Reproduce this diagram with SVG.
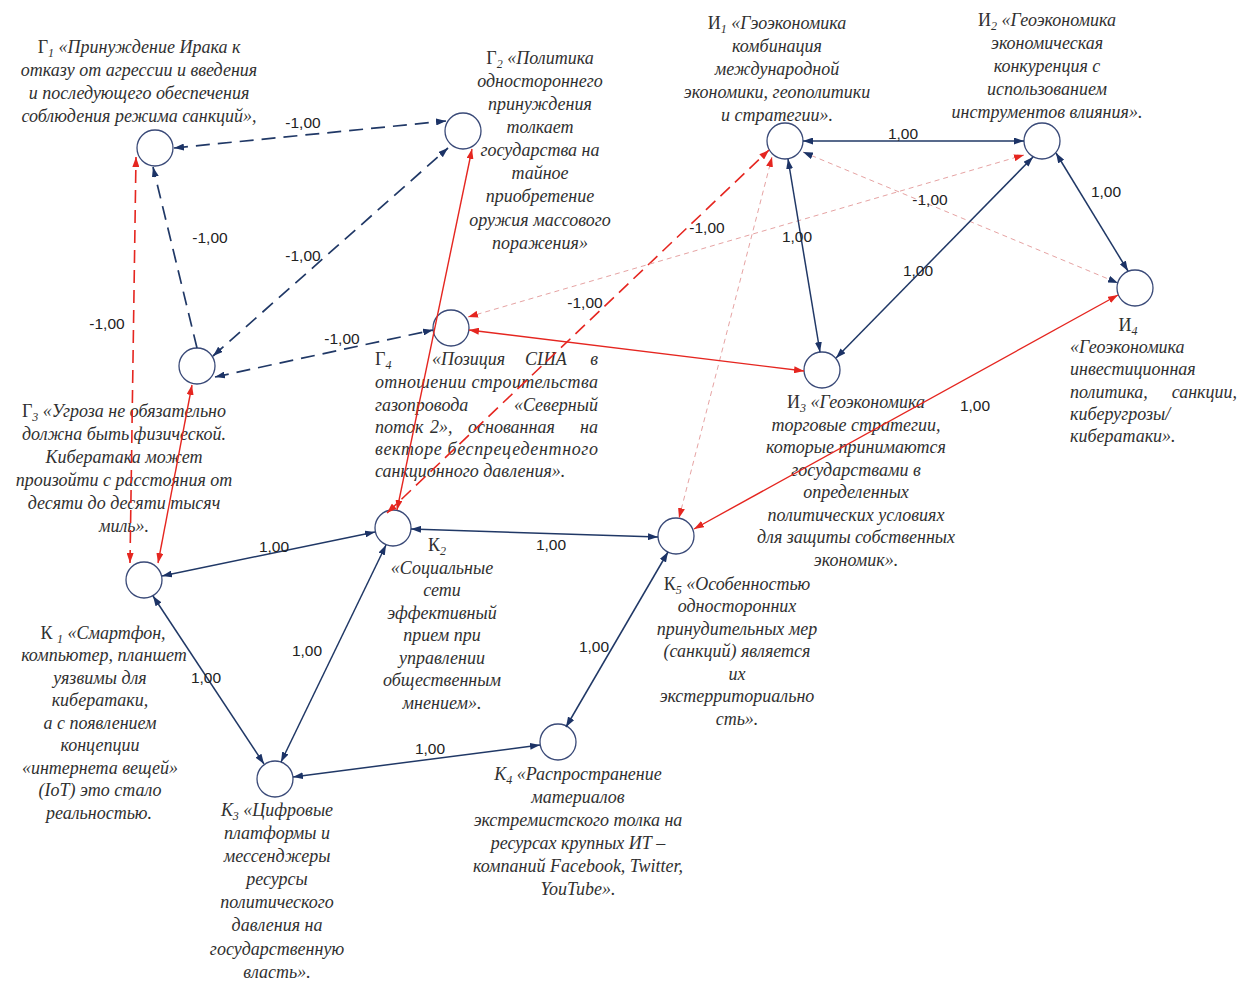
<svg xmlns="http://www.w3.org/2000/svg" width="1248" height="981" viewBox="0 0 1248 981">
<style>
.t{font-family:"Liberation Serif",serif;font-style:italic;font-size:18px;fill:#303030;text-anchor:middle}
.s{text-anchor:start}
.e{text-anchor:end}
.u{font-style:normal}
.n{fill:#fff;stroke:#3a4a78;stroke-width:1.3}
.lb{font-family:"Liberation Sans",sans-serif;font-size:15.5px;fill:#222;text-anchor:middle}
.nv{stroke:#203866;stroke-width:1.5;fill:none}
.nvd{stroke:#203866;stroke-width:1.7;fill:none;stroke-dasharray:14 8}
.rd{stroke:#e52620;stroke-width:1.4;fill:none}
.rdd{stroke:#e52620;stroke-width:1.6;fill:none;stroke-dasharray:13 7}
.pk{stroke:#e6a3a3;stroke-width:1;fill:none;stroke-dasharray:5 4}
</style>
<defs>
<marker id="an" viewBox="0 0 10 7" refX="10" refY="3.5" markerWidth="10" markerHeight="7" markerUnits="userSpaceOnUse" orient="auto-start-reverse"><path d="M0,0 L10,3.5 L0,7 z" fill="#1c3366"/></marker>
<marker id="ar" viewBox="0 0 10 7" refX="10" refY="3.5" markerWidth="10" markerHeight="7" markerUnits="userSpaceOnUse" orient="auto-start-reverse"><path d="M0,0 L10,3.5 L0,7 z" fill="#e52620"/></marker>
</defs>
<rect width="1248" height="981" fill="#fff"/>

<g id="G1">
<circle class="n" cx="155" cy="148" r="18"/>
<text class="t" x="139" y="53"><tspan class="u">Г</tspan><tspan font-size="12" dy="4">1</tspan><tspan dy="-4"> «Принуждение Ирака к</tspan></text>
<text class="t" x="139" y="76">отказу от агрессии и введения</text>
<text class="t" x="139" y="99">и последующего обеспечения</text>
<text class="t" x="139" y="122">соблюдения режима санкций»,</text>
</g>
<g id="G2">
<circle class="n" cx="463" cy="131" r="18"/>
<text class="t" x="540" y="64"><tspan class="u">Г</tspan><tspan font-size="12" dy="4">2</tspan><tspan dy="-4"> «Политика</tspan></text>
<text class="t" x="540" y="87">одностороннего</text>
<text class="t" x="540" y="110">принуждения</text>
<text class="t" x="540" y="133">толкает</text>
<text class="t" x="540" y="156">государства на</text>
<text class="t" x="540" y="179">тайное</text>
<text class="t" x="540" y="202">приобретение</text>
<text class="t" x="540" y="226">оружия массового</text>
<text class="t" x="540" y="249">поражения»</text>
</g>
<g id="G3">
<circle class="n" cx="197" cy="366" r="18"/>
<text class="t" x="124" y="417"><tspan class="u">Г</tspan><tspan font-size="12" dy="4">3</tspan><tspan dy="-4"> «Угроза не обязательно</tspan></text>
<text class="t" x="124" y="440">должна быть физической.</text>
<text class="t" x="124" y="463">Кибератака может</text>
<text class="t" x="124" y="486">произойти с расстояния от</text>
<text class="t" x="124" y="509">десяти до десяти тысяч</text>
<text class="t" x="124" y="532">миль».</text>
</g>
<g id="G4">
<circle class="n" cx="451" cy="328" r="18"/>
<text class="t s" x="375" y="365"><tspan class="u">Г</tspan><tspan font-size="12" dy="4">4</tspan></text>
<text class="t s" x="432" y="365">«Позиция</text>
<text class="t s" x="525" y="365">США</text>
<text class="t e" x="598" y="365">в</text>
<text class="t s" x="375" y="388" textLength="223" lengthAdjust="spacing">отношении строительства</text>
<text class="t s" x="375" y="411">газопровода</text>
<text class="t e" x="598" y="411">«Северный</text>
<text class="t s" x="375" y="433">поток</text>
<text class="t s" x="430" y="433">2»,</text>
<text class="t s" x="468" y="433">основанная</text>
<text class="t e" x="598" y="433">на</text>
<text class="t s" x="375" y="455" textLength="223" lengthAdjust="spacing">векторе беспрецедентного</text>
<text class="t s" x="375" y="477">санкционного давления».</text>
</g>
<g id="I1">
<circle class="n" cx="785" cy="141" r="18"/>
<text class="t" x="777" y="29"><tspan class="u">И</tspan><tspan font-size="12" dy="4">1</tspan><tspan dy="-4"> «Гэоэкономика</tspan></text>
<text class="t" x="777" y="52">комбинация</text>
<text class="t" x="777" y="75">международной</text>
<text class="t" x="777" y="98">экономики, геополитики</text>
<text class="t" x="777" y="121">и стратегии».</text>
</g>
<g id="I2">
<circle class="n" cx="1042" cy="141" r="18"/>
<text class="t" x="1047" y="26"><tspan class="u">И</tspan><tspan font-size="12" dy="4">2</tspan><tspan dy="-4"> «Геоэкономика</tspan></text>
<text class="t" x="1047" y="49">экономическая</text>
<text class="t" x="1047" y="72">конкуренция с</text>
<text class="t" x="1047" y="95">использованием</text>
<text class="t" x="1047" y="118">инструментов влияния».</text>
</g>
<g id="I3">
<circle class="n" cx="822" cy="370" r="18"/>
<text class="t" x="856" y="408"><tspan class="u">И</tspan><tspan font-size="12" dy="4">3</tspan><tspan dy="-4"> «Геоэкономика</tspan></text>
<text class="t" x="856" y="431">торговые стратегии,</text>
<text class="t" x="856" y="453">которые принимаются</text>
<text class="t" x="856" y="476">государствами в</text>
<text class="t" x="856" y="498">определенных</text>
<text class="t" x="856" y="521">политических условиях</text>
<text class="t" x="856" y="543">для защиты собственных</text>
<text class="t" x="856" y="566">экономик».</text>
</g>
<g id="I4">
<circle class="n" cx="1135" cy="288" r="18"/>
<text class="t" x="1128" y="331"><tspan class="u">И</tspan><tspan font-size="12" dy="4">4</tspan></text>
<text class="t s" x="1070" y="353">«Геоэкономика</text>
<text class="t s" x="1070" y="375">инвестиционная</text>
<text class="t s" x="1070" y="398">политика,</text>
<text class="t e" x="1237" y="398">санкции,</text>
<text class="t s" x="1070" y="420">киберугрозы/</text>
<text class="t s" x="1070" y="442">кибератаки».</text>
</g>
<g id="K1">
<circle class="n" cx="144" cy="580" r="18"/>
<text class="t" x="103" y="639"><tspan class="u">К </tspan><tspan font-size="12" dy="4">1</tspan><tspan dy="-4"> «Смартфон,</tspan></text>
<text class="t" x="104" y="661">компьютер, планшет</text>
<text class="t" x="100" y="684">уязвимы для</text>
<text class="t" x="100" y="706">кибератаки,</text>
<text class="t" x="100" y="729">а с появлением</text>
<text class="t" x="100" y="751">концепции</text>
<text class="t" x="100" y="774">«интернета вещей»</text>
<text class="t" x="100" y="796">(IoT) это стало</text>
<text class="t" x="99" y="819">реальностью.</text>
</g>
<g id="K2">
<circle class="n" cx="393" cy="528" r="18"/>
<text class="t" x="437" y="551"><tspan class="u">К</tspan><tspan font-size="12" dy="4">2</tspan></text>
<text class="t" x="442" y="574">«Социальные</text>
<text class="t" x="442" y="596">сети</text>
<text class="t" x="442" y="619">эффективный</text>
<text class="t" x="442" y="641">прием при</text>
<text class="t" x="442" y="664">управлении</text>
<text class="t" x="442" y="686">общественным</text>
<text class="t" x="442" y="709">мнением».</text>
</g>
<g id="K3">
<circle class="n" cx="275" cy="779" r="18"/>
<text class="t" x="277" y="816">К<tspan font-size="12" dy="4">3</tspan><tspan dy="-4"> «Цифровые</tspan></text>
<text class="t" x="277" y="839">платформы и</text>
<text class="t" x="277" y="862">мессенджеры</text>
<text class="t" x="277" y="885">ресурсы</text>
<text class="t" x="277" y="908">политического</text>
<text class="t" x="277" y="931">давления на</text>
<text class="t" x="277" y="955">государственную</text>
<text class="t" x="277" y="978">власть».</text>
</g>
<g id="K4">
<circle class="n" cx="558" cy="742" r="18"/>
<text class="t" x="578" y="780">К<tspan font-size="12" dy="4">4</tspan><tspan dy="-4"> «Распространение</tspan></text>
<text class="t" x="578" y="803">материалов</text>
<text class="t" x="578" y="826">экстремистского толка на</text>
<text class="t" x="578" y="849">ресурсах крупных ИТ –</text>
<text class="t" x="578" y="872">компаний Facebook, Twitter,</text>
<text class="t" x="578" y="895">YouTube».</text>
</g>
<g id="K5">
<circle class="n" cx="676" cy="536" r="18"/>
<text class="t" x="737" y="590"><tspan class="u">К</tspan><tspan font-size="12" dy="4">5</tspan><tspan dy="-4"> «Особенностью</tspan></text>
<text class="t" x="737" y="612">односторонних</text>
<text class="t" x="737" y="635">принудительных мер</text>
<text class="t" x="737" y="657">(санкций) является</text>
<text class="t" x="737" y="680">их</text>
<text class="t" x="737" y="702">экстерриториально</text>
<text class="t" x="737" y="725">сть».</text>
</g>

<g id="connectors">
<line class="nvd" x1="174" y1="148" x2="446" y2="121" marker-start="url(#an)" marker-end="url(#an)"/>
<line class="nvd" x1="197" y1="348" x2="153" y2="167" marker-end="url(#an)"/>
<line class="nvd" x1="213" y1="356" x2="448" y2="148" marker-start="url(#an)" marker-end="url(#an)"/>
<line class="nvd" x1="215" y1="377" x2="433" y2="330" marker-start="url(#an)" marker-end="url(#an)"/>
<line class="rdd" x1="130" y1="563" x2="136" y2="157" marker-start="url(#ar)" marker-end="url(#ar)"/>
<line class="rd" x1="158" y1="563" x2="192" y2="385" marker-start="url(#ar)" marker-end="url(#ar)"/>
<line class="rd" x1="397" y1="510" x2="472" y2="149" marker-start="url(#ar)" marker-end="url(#ar)"/>
<line class="rdd" x1="387" y1="513" x2="769" y2="150" marker-start="url(#ar)" marker-end="url(#ar)"/>
<line class="pk" x1="679" y1="518" x2="772" y2="157" marker-start="url(#ar)" marker-end="url(#ar)"/>
<line class="pk" x1="468" y1="317" x2="1024" y2="155" marker-start="url(#ar)" marker-end="url(#ar)"/>
<line class="pk" x1="803" y1="152" x2="1118" y2="283" marker-start="url(#an)" marker-end="url(#an)"/>
<line class="nv" x1="803" y1="141" x2="1024" y2="141" marker-start="url(#an)" marker-end="url(#an)"/>
<line class="nv" x1="788" y1="159" x2="820" y2="352" marker-start="url(#an)" marker-end="url(#an)"/>
<line class="nv" x1="1033" y1="157" x2="836" y2="358" marker-start="url(#an)" marker-end="url(#an)"/>
<line class="nv" x1="1056" y1="153" x2="1128" y2="271" marker-start="url(#an)" marker-end="url(#an)"/>
<line class="rd" x1="469" y1="330" x2="804" y2="371" marker-start="url(#ar)" marker-end="url(#ar)"/>
<line class="rd" x1="1118" y1="295" x2="694" y2="529" marker-start="url(#ar)" marker-end="url(#ar)"/>
<line class="nv" x1="162" y1="576" x2="375" y2="532" marker-start="url(#an)" marker-end="url(#an)"/>
<line class="nv" x1="411" y1="529" x2="658" y2="537" marker-start="url(#an)" marker-end="url(#an)"/>
<line class="nv" x1="153" y1="596" x2="264" y2="764" marker-start="url(#an)" marker-end="url(#an)"/>
<line class="nv" x1="386" y1="545" x2="281" y2="762" marker-start="url(#an)" marker-end="url(#an)"/>
<line class="nv" x1="293" y1="777" x2="540" y2="745" marker-start="url(#an)" marker-end="url(#an)"/>
<line class="nv" x1="668" y1="552" x2="566" y2="727" marker-start="url(#an)" marker-end="url(#an)"/>
<text class="lb" x="303" y="128">-1,00</text>
<text class="lb" x="210" y="243">-1,00</text>
<text class="lb" x="303" y="261">-1,00</text>
<text class="lb" x="342" y="344">-1,00</text>
<text class="lb" x="107" y="329">-1,00</text>
<text class="lb" x="585" y="308">-1,00</text>
<text class="lb" x="707" y="233">-1,00</text>
<text class="lb" x="930" y="205">-1,00</text>
<text class="lb" x="903" y="139">1,00</text>
<text class="lb" x="797" y="242">1,00</text>
<text class="lb" x="918" y="276">1,00</text>
<text class="lb" x="1106" y="197">1,00</text>
<text class="lb" x="975" y="411">1,00</text>
<text class="lb" x="274" y="552">1,00</text>
<text class="lb" x="551" y="550">1,00</text>
<text class="lb" x="206" y="683">1,00</text>
<text class="lb" x="307" y="656">1,00</text>
<text class="lb" x="430" y="754">1,00</text>
<text class="lb" x="594" y="652">1,00</text>
</g>
</svg>
